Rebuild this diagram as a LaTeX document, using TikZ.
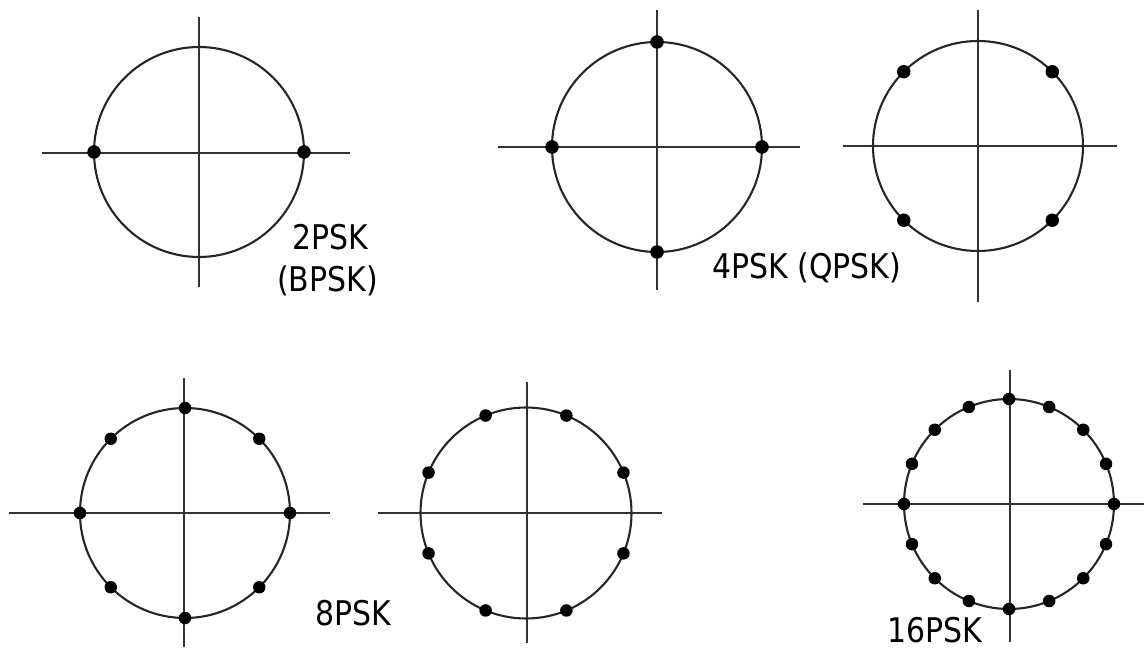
\documentclass[tikz,border=0pt]{standalone}
\usepackage{fontspec}
\setmainfont{DejaVu Sans}[FakeStretch=0.88]
\usetikzlibrary{calc}
\begin{document}
\begin{tikzpicture}[x=1pt,y=-1pt,
  ring/.style={draw=black!85, line width=2.1pt},
  axis/.style={draw=black!80, line width=1.2pt},
  dot/.style={circle, fill=black, inner sep=0pt, minimum size=13.5pt},
  sdot/.style={circle, fill=black, inner sep=0pt, minimum size=12.5pt},
  lbl/.style={anchor=base west, inner sep=0pt, font=\fontsize{34}{40}\selectfont}]
\useasboundingbox (0,0) rectangle (1144,652);

% 2PSK
\coordinate (c1) at (199,152);
\coordinate (h1a) at (42,153); \coordinate (h1b) at (350,153);
\coordinate (v1a) at (199,17); \coordinate (v1b) at (199,287);
\draw[axis] (h1a) -- (h1b);
\draw[axis] (v1a) -- (v1b);
\draw[ring] (c1) circle (105);
\foreach \a [count=\i] in {0,180} \node[dot] (p1-\i) at ($(c1)+(\a:105)$) {};

% 4PSK
\coordinate (c2) at (657,147);
\coordinate (h2a) at (498,147); \coordinate (h2b) at (800,147);
\coordinate (v2a) at (657,10); \coordinate (v2b) at (657,290);
\draw[axis] (h2a) -- (h2b);
\draw[axis] (v2a) -- (v2b);
\draw[ring] (c2) circle (105);
\foreach \a [count=\i] in {0,90,180,270} \node[dot] (p2-\i) at ($(c2)+(\a:105)$) {};

% 4PSK rotated
\coordinate (c3) at (978,146);
\coordinate (h3a) at (843,146); \coordinate (h3b) at (1117,146);
\coordinate (v3a) at (978,10); \coordinate (v3b) at (978,302);
\draw[axis] (h3a) -- (h3b);
\draw[axis] (v3a) -- (v3b);
\draw[ring] (c3) circle (105);
\foreach \a [count=\i] in {45,135,225,315} \node[dot] (p3-\i) at ($(c3)+(\a:105)$) {};

% 8PSK
\coordinate (c4) at (185,513);
\coordinate (h4a) at (9,513); \coordinate (h4b) at (330,513);
\coordinate (v4a) at (184,378); \coordinate (v4b) at (184,647);
\draw[axis] (h4a) -- (h4b);
\draw[axis] (v4a) -- (v4b);
\draw[ring] (c4) circle (105);
\foreach \a [count=\i] in {0,45,...,315} \node[sdot] (p4-\i) at ($(c4)+(\a:105)$) {};

% 8PSK rotated
\coordinate (c5) at (526,513);
\coordinate (h5a) at (378,513); \coordinate (h5b) at (662,513);
\coordinate (v5a) at (527,382); \coordinate (v5b) at (527,643);
\draw[axis] (h5a) -- (h5b);
\draw[axis] (v5a) -- (v5b);
\draw[ring] (c5) circle (105.5);
\foreach \a [count=\i] in {22.5,67.5,...,337.5} \node[sdot] (p5-\i) at ($(c5)+(\a:105.5)$) {};

% 16PSK
\coordinate (c6) at (1009,504);
\coordinate (h6a) at (863,504); \coordinate (h6b) at (1144,504);
\coordinate (v6a) at (1010,370); \coordinate (v6b) at (1010,642);
\draw[axis] (h6a) -- (h6b);
\draw[axis] (v6a) -- (v6b);
\draw[ring] (c6) circle (105);
\foreach \a [count=\i] in {0,22.5,...,337.5} \node[sdot] (p6-\i) at ($(c6)+(\a:105)$) {};

% labels
\node[lbl] (t1) at (292,250) {2PSK};
\node[lbl] (t1b) at (277,292) {(BPSK)};
\node[lbl] (t2) at (712,279) {4PSK (QPSK)};
\node[lbl] (t3) at (315,625) {8PSK};
\node[lbl] (t4) at (887,642) {16PSK};
\end{tikzpicture}
\end{document}
